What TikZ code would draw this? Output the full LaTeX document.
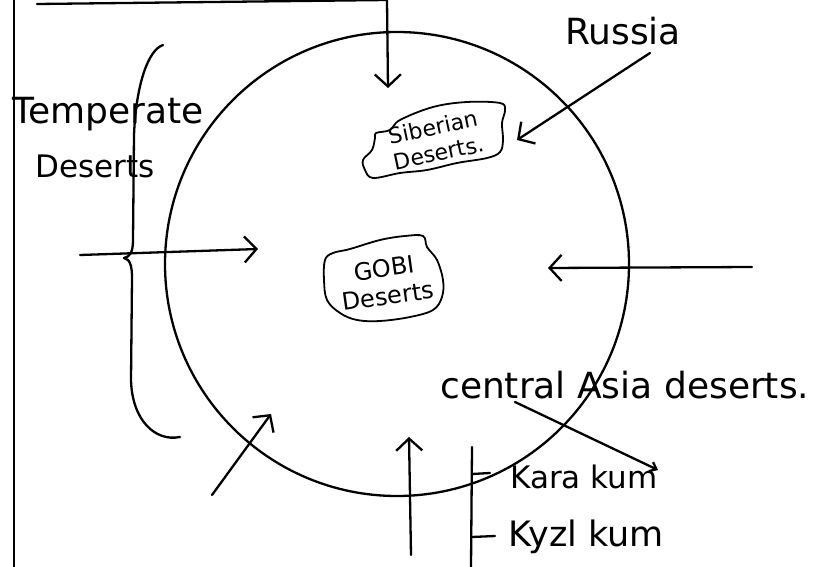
\documentclass[tikz,border=0pt]{standalone}
\usepackage{fontspec}
\setmainfont{DejaVu Sans}
\usetikzlibrary{arrows.meta}
\begin{document}
\begin{tikzpicture}[x=1pt,y=-1pt,line cap=round,line join=round,
  ink/.style={line width=2.3pt,draw=black},
  thin ink/.style={line width=1.8pt,draw=black},
  arr/.style={ink,-{Straight Barb[length=12pt,width=26pt,line width=2.3pt]}},
  small arr/.style={ink,-{Straight Barb[length=6pt,width=10pt,line width=2.3pt]}},
  lbl/.style={inner sep=0pt,anchor=base west},
  blobtext/.style={inner sep=0pt,align=center,font=\fontsize{22pt}{26pt}\selectfont},
]
\useasboundingbox (0,0) rectangle (838,567);

% frame lines
\coordinate (fl1) at (14,0);
\coordinate (fl2) at (14,567);
\draw[ink] (fl1) -- (fl2);
\coordinate (tl) at (37,4);
\coordinate (tr) at (387,0);
\draw[ink] (tl) -- (tr);

% globe
\node[circle,ink,minimum size=464pt,inner sep=0pt] (earth) at (397,264) {};

% texts
\node[lbl,font=\fontsize{36pt}{40pt}\selectfont] (temp) at (12,124) {Temperate};
\node[lbl,font=\fontsize{31pt}{36pt}\selectfont] (tdes) at (35,178) {Deserts};
\node[lbl,font=\fontsize{36pt}{40pt}\selectfont] (russia) at (565,45) {Russia};
\node[lbl,font=\fontsize{36pt}{40pt}\selectfont] (casia) at (440,398) {central Asia deserts.};
\node[lbl,font=\fontsize{31pt}{36pt}\selectfont] (kara) at (510,488) {Kara kum};
\node[lbl,font=\fontsize{35pt}{40pt}\selectfont] (kyzl) at (508,546) {Kyzl kum};

% blobs
\node[blobtext,rotate=12] (sib) at (436,140) {Siberian\\Deserts.};
\draw[thin ink] plot[smooth cycle,tension=0.6] coordinates {(376,133) (390,130) (400,120) (433,107) (467,102) (500,103) (505,110) (502,123) (503,140) (500,152) (487,158) (457,163) (427,170) (400,173) (373,178) (365,170) (363,160) (372,150) (375,138)};
\node[blobtext,rotate=8,font=\fontsize{24pt}{28pt}\selectfont] (gobi) at (386,282) {GOBI\\Deserts};
\draw[thin ink] plot[smooth cycle,tension=0.6] coordinates {(325,260) (333,253) (350,249) (380,240) (405,236) (423,236) (427,247) (437,260) (443,280) (442,297) (433,310) (410,317) (380,321) (357,320) (340,313) (327,300) (324,280)};

% brace
\coordinate (b0) at (163,45);
\coordinate (cusp) at (124,258);
\coordinate (b2) at (180,437);
\draw[ink] (b0) .. controls (148,50) and (136,85) .. (134,135) -- (133,240)
  .. controls (133,252) and (130,257) .. (cusp)
  .. controls (130,259) and (132,266) .. (132,278) -- (131,380)
  .. controls (132,420) and (155,442) .. (b2);

% arrows
\coordinate (a1) at (388,88);
\draw[arr] (tr) -- (a1);
\coordinate (l0) at (80,255);
\coordinate (l1) at (258,249);
\draw[arr] (l0) -- (l1);
\coordinate (r0) at (752,267);
\coordinate (r1) at (548,268);
\draw[arr] (r0) -- (r1);
\coordinate (ru0) at (650,53);
\coordinate (ru1) at (517,140);
\draw[arr] (ru0) -- (ru1);
\coordinate (bl0) at (212,495);
\coordinate (bl1) at (271,414);
\draw[arr] (bl0) -- (bl1);
\coordinate (bm0) at (411,555);
\coordinate (bm1) at (409,437);
\draw[arr] (bm0) -- (bm1);
\coordinate (ca0) at (515,402);
\coordinate (ca1) at (658,470);
\draw[small arr] (ca0) -- (ca1);

% Kara kum / Kyzl kum bracket
\coordinate (k0) at (472,447);
\coordinate (k1) at (471,567);
\draw[ink] (k0) -- (k1);
\coordinate (kt1) at (472,474);
\coordinate (kt1e) at (490,473);
\draw[ink] (kt1) -- (kt1e);
\coordinate (kt2) at (472,537);
\coordinate (kt2e) at (495,536);
\draw[ink] (kt2) -- (kt2e);
\end{tikzpicture}
\end{document}
